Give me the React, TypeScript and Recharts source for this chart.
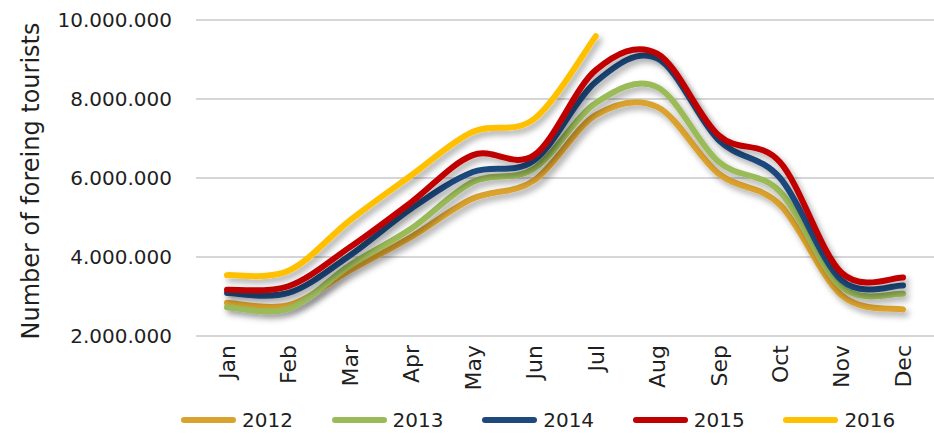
import { LineChart, Line, XAxis, YAxis, CartesianGrid, Legend } from 'recharts';

const months = ['Jan', 'Feb', 'Mar', 'Apr', 'May', 'Jun', 'Jul', 'Aug', 'Sep', 'Oct', 'Nov', 'Dec'];

// values, in tourists
const y2012 = [2840000, 2780000, 3660000, 4510000, 5480000, 5940000, 7590000, 7800000, 6110000, 5320000, 3030000, 2670000];
const y2013 = [2730000, 2690000, 3790000, 4720000, 5900000, 6240000, 7900000, 8300000, 6410000, 5650000, 3240000, 3070000];
const y2014 = [3090000, 3090000, 4040000, 5230000, 6150000, 6450000, 8430000, 9030000, 6960000, 6000000, 3410000, 3280000];
const y2015 = [3170000, 3260000, 4250000, 5390000, 6580000, 6580000, 8730000, 9150000, 7080000, 6400000, 3600000, 3480000];
const y2016 = [3540000, 3650000, 4930000, 6070000, 7170000, 7500000, 9590000];

const yTicks = [2000000, 4000000, 6000000, 8000000, 10000000];

const seriesList = [
  { key: '2012', values: y2012, color: '#DAA22F' },
  { key: '2013', values: y2013, color: '#9BBB59' },
  { key: '2014', values: y2014, color: '#1F497D' },
  { key: '2015', values: y2015, color: '#C00000' },
  { key: '2016', values: y2016, color: '#FFC000' },
];

const data = months.map((m, i) => {
  const row: Record<string, string | number | null> = { month: m };
  seriesList.forEach((s) => {
    row[s.key] = i < s.values.length ? s.values[i] : null;
  });
  return row;
});

const FONT = '"DejaVu Sans", sans-serif';
const TEXT = '#1f1f1f';

// smooth line like the office "smoothed line" (cardinal bezier)
const smoothCurve = (context: any) => {
  let pts: number[][] = [];
  return {
    areaStart() {},
    areaEnd() {},
    lineStart() {
      pts = [];
    },
    point(x: number, y: number) {
      pts.push([+x, +y]);
    },
    lineEnd() {
      const n = pts.length;
      if (!n) return;
      context.moveTo(pts[0][0], pts[0][1]);
      for (let i = 0; i < n - 1; i++) {
        const p0 = pts[Math.max(i - 1, 0)];
        const p1 = pts[i];
        const p2 = pts[i + 1];
        const p3 = pts[Math.min(i + 2, n - 1)];
        context.bezierCurveTo(
          p1[0] + (p2[0] - p0[0]) / 6,
          p1[1] + (p2[1] - p0[1]) / 6,
          p2[0] - (p3[0] - p1[0]) / 6,
          p2[1] - (p3[1] - p1[1]) / 6,
          p2[0],
          p2[1]
        );
      }
    },
  };
};

const fmt = (v: number) => v.toLocaleString('de-DE');

const MonthTick = ({ x, y, payload }: any) => (
  <text
    x={x}
    y={y}
    transform={`rotate(-90 ${x} ${y})`}
    textAnchor="end"
    dy="0.36em"
    fontSize={22}
    fontFamily={FONT}
    fill={TEXT}
  >
    {payload.value}
  </text>
);

const LegendBox = () => (
  <div style={{ display: 'flex', height: 30, alignItems: 'center', paddingLeft: 181, fontFamily: FONT, fontSize: 20, color: TEXT }}>
    {seriesList.map((s) => (
      <div key={s.key} style={{ display: 'flex', alignItems: 'center', width: 152 }}>
        <div style={{ width: 55, height: 6, borderRadius: 3, background: s.color, marginRight: 6 }} />
        <span>{s.key}</span>
      </div>
    ))}
  </div>
);

export default function App() {
  return (
    <div style={{ position: 'absolute', left: 0, top: 0 }}>
      <LineChart width={934} height={435} data={data} margin={{ top: 20, right: 0, left: 0, bottom: 0 }}>
        <defs>
          <filter id="lineShadow" x="-10%" y="-10%" width="130%" height="140%">
            <feDropShadow dx="3" dy="4" stdDeviation="3" floodColor="#000" floodOpacity="0.35" />
          </filter>
        </defs>
        <CartesianGrid vertical={false} stroke="#C8C8C8" strokeWidth={1.5} />
        <XAxis
          dataKey="month"
          axisLine={false}
          tickLine={false}
          tickSize={0}
          tickMargin={9}
          height={69}
          padding={{ left: 31, right: 31 }}
          interval={0}
          tick={<MonthTick />}
        />
        <YAxis
          width={196}
          domain={[2000000, 10000000]}
          ticks={yTicks}
          axisLine={false}
          tickLine={false}
          tickSize={0}
          tickMargin={24}
          tickFormatter={fmt}
          tick={{ fontSize: 20, fontFamily: FONT, fill: TEXT }}
        />
        <Legend verticalAlign="bottom" content={<LegendBox />} wrapperStyle={{ left: 0, width: 934 }} />
        {seriesList.map((s) => (
          <Line
            key={s.key}
            dataKey={s.key}
            type={smoothCurve as any}
            stroke={s.color}
            strokeWidth={6}
            strokeLinecap="round"
            dot={false}
            activeDot={false}
            filter="url(#lineShadow)"
            isAnimationActive={false}
          />
        ))}
        <text
          x={31}
          y={181}
          transform="rotate(-90 31 181)"
          textAnchor="middle"
          dominantBaseline="central"
          fontSize={24}
          fontFamily={FONT}
          fill={TEXT}
        >
          Number of foreing tourists
        </text>
      </LineChart>
    </div>
  );
}
